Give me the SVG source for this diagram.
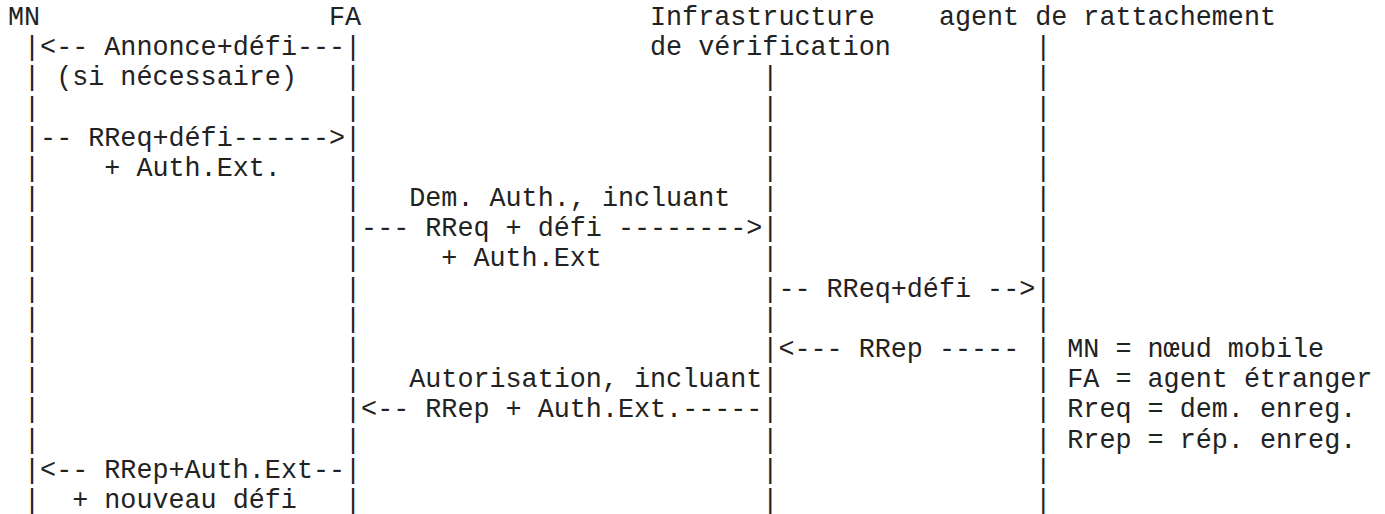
<svg xmlns="http://www.w3.org/2000/svg" width="1385" height="514" viewBox="0 0 1385 514">
<style>
text{font-family:"Liberation Mono","DejaVu Sans Mono",monospace;font-size:26.75px;fill:#222;white-space:pre}
</style>
<rect width="1385" height="514" fill="#fff"/>
<g id="node-mn">
<text x="8" y="25">MN</text>
<text x="24.05" y="55.18">|</text><text x="24.05" y="85.36">|</text><text x="24.05" y="115.54">|</text><text x="24.05" y="145.72">|</text><text x="24.05" y="175.9">|</text><text x="24.05" y="206.08">|</text><text x="24.05" y="236.26">|</text><text x="24.05" y="266.44">|</text><text x="24.05" y="296.62">|</text><text x="24.05" y="326.8">|</text><text x="24.05" y="356.98">|</text><text x="24.05" y="387.16">|</text><text x="24.05" y="417.34">|</text><text x="24.05" y="447.52">|</text><text x="24.05" y="477.7">|</text><text x="24.05" y="507.88">|</text>
</g>
<g id="node-fa">
<text x="329" y="25">FA</text>
<text x="345.05" y="55.18">|</text><text x="345.05" y="85.36">|</text><text x="345.05" y="115.54">|</text><text x="345.05" y="145.72">|</text><text x="345.05" y="175.9">|</text><text x="345.05" y="206.08">|</text><text x="345.05" y="236.26">|</text><text x="345.05" y="266.44">|</text><text x="345.05" y="296.62">|</text><text x="345.05" y="326.8">|</text><text x="345.05" y="356.98">|</text><text x="345.05" y="387.16">|</text><text x="345.05" y="417.34">|</text><text x="345.05" y="447.52">|</text><text x="345.05" y="477.7">|</text><text x="345.05" y="507.88">|</text>
</g>
<g id="node-infra">
<text x="650" y="25">Infrastructure</text>
<text x="650" y="55.18">de vérification</text>
<text x="762.35" y="85.36">|</text><text x="762.35" y="115.54">|</text><text x="762.35" y="145.72">|</text><text x="762.35" y="175.9">|</text><text x="762.35" y="206.08">|</text><text x="762.35" y="236.26">|</text><text x="762.35" y="266.44">|</text><text x="762.35" y="296.62">|</text><text x="762.35" y="326.8">|</text><text x="762.35" y="356.98">|</text><text x="762.35" y="387.16">|</text><text x="762.35" y="417.34">|</text><text x="762.35" y="447.52">|</text><text x="762.35" y="477.7">|</text><text x="762.35" y="507.88">|</text>
</g>
<g id="node-ha">
<text x="938.9" y="25">agent de rattachement</text>
<text x="1035.2" y="55.18">|</text><text x="1035.2" y="85.36">|</text><text x="1035.2" y="115.54">|</text><text x="1035.2" y="145.72">|</text><text x="1035.2" y="175.9">|</text><text x="1035.2" y="206.08">|</text><text x="1035.2" y="236.26">|</text><text x="1035.2" y="266.44">|</text><text x="1035.2" y="296.62">|</text><text x="1035.2" y="326.8">|</text><text x="1035.2" y="356.98">|</text><text x="1035.2" y="387.16">|</text><text x="1035.2" y="417.34">|</text><text x="1035.2" y="447.52">|</text><text x="1035.2" y="477.7">|</text><text x="1035.2" y="507.88">|</text>
</g>
<g id="connectors">
<text x="40.1" y="55.18">&lt;-- Annonce+défi---</text>
<text x="56.15" y="85.36">(si nécessaire)</text>
<text x="40.1" y="145.72">-- RReq+défi------&gt;</text>
<text x="104.3" y="175.9">+ Auth.Ext.</text>
<text x="409.25" y="206.08">Dem. Auth., incluant</text>
<text x="361.1" y="236.26">--- RReq + défi --------&gt;</text>
<text x="441.35" y="266.44">+ Auth.Ext</text>
<text x="778.4" y="296.62">-- RReq+défi --&gt;</text>
<text x="778.4" y="356.98">&lt;--- RRep -----</text>
<text x="409.25" y="387.16">Autorisation, incluant</text>
<text x="361.1" y="417.34">&lt;-- RRep + Auth.Ext.-----</text>
<text x="40.1" y="477.7">&lt;-- RRep+Auth.Ext--</text>
<text x="72.2" y="507.88">+ nouveau défi</text>
</g>
<g id="legend">
<text x="1067.3" y="356.98">MN = nœud mobile</text>
<text x="1067.3" y="387.16">FA = agent étranger</text>
<text x="1067.3" y="417.34">Rreq = dem. enreg.</text>
<text x="1067.3" y="447.52">Rrep = rép. enreg.</text>
</g>
</svg>
